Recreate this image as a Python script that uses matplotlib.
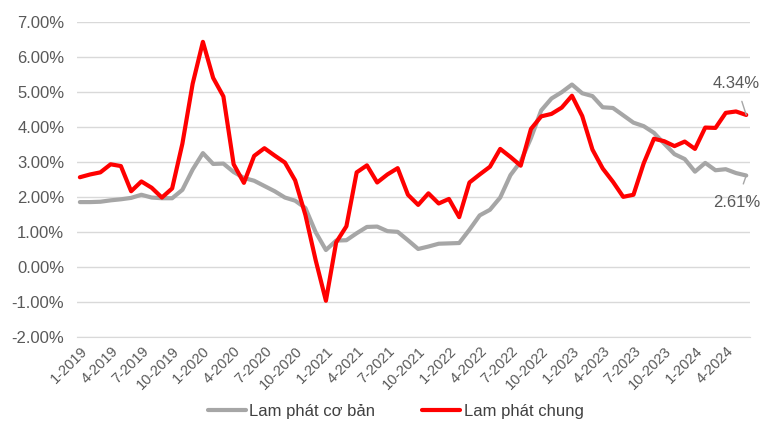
import numpy as np
import matplotlib.pyplot as plt

plt.rcParams['font.family'] = ['Liberation Sans', 'DejaVu Sans']

# monthly, 1-2019 .. 6-2024
months = [f"{m}-{y}" for y in range(2019, 2025) for m in range(1, 13)][:66]

headline = [2.56, 2.64, 2.70, 2.93, 2.88, 2.16, 2.44, 2.26, 1.98, 2.24, 3.52, 5.23,
            6.43, 5.40, 4.87, 2.93, 2.40, 3.17, 3.39, 3.18, 2.98, 2.47, 1.48, 0.19,
            -0.97, 0.70, 1.16, 2.70, 2.90, 2.41, 2.64, 2.82, 2.06, 1.77, 2.10, 1.81,
            1.94, 1.42, 2.41, 2.64, 2.86, 3.37, 3.14, 2.89, 3.94, 4.30, 4.37, 4.55,
            4.89, 4.31, 3.35, 2.81, 2.43, 2.00, 2.06, 2.96, 3.66, 3.59, 3.45, 3.58,
            3.37, 3.98, 3.97, 4.40, 4.44, 4.34]

core = [1.85, 1.85, 1.86, 1.90, 1.93, 1.97, 2.06, 1.98, 1.96, 1.96, 2.20, 2.78,
        3.25, 2.94, 2.95, 2.71, 2.54, 2.46, 2.31, 2.16, 1.98, 1.89, 1.68, 0.99,
        0.48, 0.75, 0.76, 0.96, 1.14, 1.15, 1.02, 1.00, 0.76, 0.51, 0.58, 0.66,
        0.67, 0.68, 1.06, 1.47, 1.63, 1.98, 2.62, 3.01, 3.68, 4.47, 4.81, 4.99,
        5.21, 4.96, 4.88, 4.56, 4.54, 4.33, 4.12, 4.02, 3.83, 3.52, 3.22, 3.08,
        2.72, 2.97, 2.76, 2.79, 2.68, 2.61]

label_color = '#595959'
x = np.arange(len(months))

fig = plt.figure(figsize=(7.68, 4.21), dpi=100)
ax = fig.add_axes([0.100, 0.200, 0.877, 0.748])

ax.plot(x, core, color='#a6a6a6', lw=3.0, label='Lam phát cơ bản', solid_capstyle='round')
ax.plot(x, headline, color='#ff0000', lw=3.0, label='Lam phát chung', solid_capstyle='round')

ax.set_ylim(-2, 7)
ax.set_xlim(-0.3, 65.4)
yt = np.arange(-2, 8)
ax.set_yticks(yt)
ax.set_yticklabels([f"{v:.2f}%" for v in yt], fontsize=12, color=label_color)
ax.set_xticks(x[::3])
ax.set_xticklabels(months[::3], rotation=45, ha='right', rotation_mode='anchor',
                   fontsize=10.5, color=label_color)
ax.tick_params(axis='y', length=0, pad=9)
ax.tick_params(axis='x', length=0, pad=5)
ax.grid(axis='y', color='#d9d9d9', lw=1)
ax.set_axisbelow(True)
for s in ['top', 'right', 'left']:
    ax.spines[s].set_visible(False)
ax.spines['bottom'].set_color('#d9d9d9')

# end labels
ax.annotate(f"{headline[-1]:.2f}%", xy=(x[-1], headline[-1]), xytext=(x[-1] - 1.0, 5.25),
            ha='center', va='center', fontsize=12, color=label_color,
            arrowprops=dict(arrowstyle='-', color='#a6a6a6', lw=1, shrinkA=6, shrinkB=0))
ax.annotate(f"{core[-1]:.2f}%", xy=(x[-1], core[-1]), xytext=(x[-1] - 0.9, 1.85),
            ha='center', va='center', fontsize=12, color=label_color,
            arrowprops=dict(arrowstyle='-', color='#a6a6a6', lw=1, shrinkA=6, shrinkB=0))

fig.legend(loc='lower center', bbox_to_anchor=(0.515, -0.03), ncol=2, frameon=False,
           fontsize=12, handlelength=2.3, handletextpad=0.2, columnspacing=2.8,
           labelcolor='#404040')

fig.savefig('out.png', dpi=100)
